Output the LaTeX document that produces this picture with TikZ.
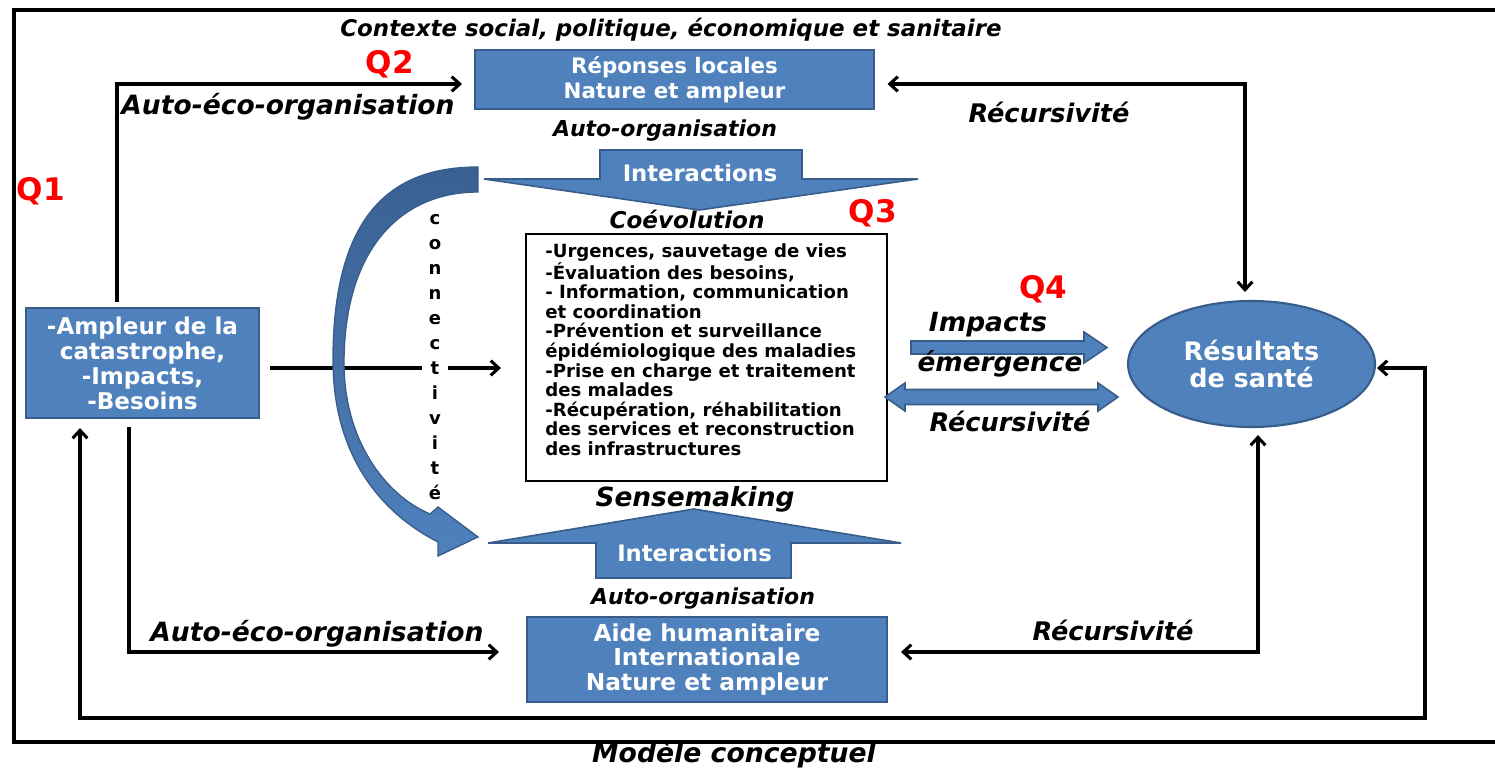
\documentclass[tikz,border=0pt]{standalone}
\usepackage{fontspec}
\setmainfont{DejaVu Sans}
\usetikzlibrary{arrows.meta,shapes.geometric}
\definecolor{bfill}{HTML}{4F81BD}
\definecolor{bline}{HTML}{385D8A}
\definecolor{bdark}{HTML}{3A6092}
\definecolor{qred}{HTML}{FF0000}
\begin{document}
\begin{tikzpicture}[x=0.75pt,y=-0.75pt,
  >={Straight Barb[length=6pt,width=11pt]},
  conn/.style={line width=2.3pt},
  bbox/.style={draw=bline, line width=1.6pt, fill=bfill, text=white, align=center, inner sep=0pt, outer sep=0pt},
  bigarrow/.style={draw=bline, line width=1.2pt, fill=bfill},
  lbl/.style={anchor=base, inner sep=0pt, font=\bfseries\itshape\fontsize{#1}{#1}\selectfont},
  qlbl/.style={anchor=base, inner sep=0pt, text=qred, font=\bfseries\fontsize{23.3}{23.3}\selectfont}
]
\useasboundingbox (0,0) rectangle (1495,769);
% outer context frame
\draw[line width=2.4pt] (1505,10) -- (14,10) -- (14,742) -- (1505,742);

% main nodes
\node[bbox, minimum width=299.25pt, minimum height=44.25pt, font=\bfseries\fontsize{16}{18.75}\selectfont] (rep) at (674.5,79.5) {Réponses locales\\Nature et ampleur};
\node[bbox, minimum width=174.75pt, minimum height=82.5pt, font=\bfseries\fontsize{17.3}{18.75}\selectfont] (amp) at (142.5,363) {-Ampleur de la\\catastrophe,\\-Impacts,\\-Besoins};
\node[bbox, minimum width=270pt, minimum height=63.75pt, font=\bfseries\fontsize{17.5}{18.4}\selectfont] (aide) at (707,659.5) {Aide humanitaire\\Internationale\\Nature et ampleur};
\node[ellipse, draw=bline, line width=1.6pt, fill=bfill, text=white, minimum width=185.25pt, minimum height=94.5pt, inner sep=0pt, outer sep=0pt, align=center, font=\bfseries\fontsize{19.1}{20.3}\selectfont] (res) at (1251.5,364) {Résultats\\de santé};
\node[draw=black, line width=2.2pt, minimum width=270.75pt, minimum height=185.25pt, inner sep=0pt, outer sep=0pt] (box) at (706.5,357.5) {};
\node[anchor=north west, inner sep=0pt, align=left, font=\bfseries\fontsize{13.6}{14.7}\selectfont] (boxtxt) at (545,243) {-Urgences, sauvetage de vies\\-Évaluation des besoins,\\- Information, communication\\et coordination\\-Prévention et surveillance\\épidémiologique des maladies\\-Prise en charge et traitement\\des malades\\-Récupération, réhabilitation\\des services et reconstruction\\des infrastructures};

% connectors
\coordinate (loopR) at (1425,718);
\draw[conn,->] ([shift={(-25.5,-6)}]amp.north) |- ([shift={(-13,4.5)}]rep.west);
\draw[conn,->] ([shift={(11,5)}]amp.east) -- ([shift={(-25,10.5)}]box.west);
\draw[conn,->] ([shift={(-13.5,9)}]amp.south) |- ([shift={(-28,-7.5)}]aide.west);
\draw[conn,<->] ([shift={(-62.5,10)}]amp.south) |- (loopR) |- ([shift={(2,4)}]res.east);
\draw[conn,<->] ([shift={(6.5,8)}]res.south) |- ([shift={(14,-7.5)}]aide.east);
\draw[conn,<->] ([shift={(13.5,4.5)}]rep.east) -| ([shift={(-6.5,-9)}]res.north);

% block arrows
\path[bigarrow] (600,150) -- (802,150) -- (802,179) -- (918,179) -- (699,210) -- (484,179) -- (600,179) -- cycle;
\path[bigarrow] (694,509) -- (901,543) -- (791,543) -- (791,578) -- (596,578) -- (596,543) -- (488,543) -- cycle;
\path[bigarrow] (911,341) -- (1084,341) -- (1084,332) -- (1107,347.5) -- (1084,363) -- (1084,354) -- (911,354) -- cycle;
\path[bigarrow] (885,397) -- (905,383) -- (905,389.5) -- (1098,389.5) -- (1098,383) -- (1118,397) -- (1098,411) -- (1098,404.5) -- (905,404.5) -- (905,411) -- cycle;
\node[anchor=base, inner sep=0pt, text=white, font=\bfseries\fontsize{17}{17}\selectfont] (int1) at (700,181.3) {Interactions};
\node[anchor=base, inner sep=0pt, text=white, font=\bfseries\fontsize{17}{17}\selectfont] (int2) at (694.5,561.3) {Interactions};

% labels
\node[lbl=17.2] (ctx) at (671,36.4) {Contexte social, politique, économique et sanitaire};
\node[lbl=19.9] (aeo1) at (288,114.8) {Auto-éco-organisation};
\node[lbl=16.5] (ao1) at (665,136) {Auto-organisation};
\node[lbl=19.2] (rec1) at (1049,122.5) {Récursivité};
\node[lbl=17.3] (coev) at (687,228.5) {Coévolution};
\node[lbl=19.8] (imp) at (988,331.7) {Impacts};
\node[lbl=19.7] (emer) at (1000,371) {émergence};
\node[lbl=19.2] (rec2) at (1010,431.5) {Récursivité};
\node[lbl=19.8] (sense) at (695,506.7) {Sensemaking};
\node[lbl=16.5] (ao2) at (703,604) {Auto-organisation};
\node[lbl=19.9] (aeo2) at (317,641.8) {Auto-éco-organisation};
\node[lbl=19.2] (rec3) at (1113,640.5) {Récursivité};
\node[lbl=20] (title) at (734,762.5) {Modèle conceptuel};
\node[qlbl] (q1) at (41,200.3) {Q1};
\node[qlbl] (q2) at (390,73.3) {Q2};
\node[qlbl] (q3) at (873,222.3) {Q3};
\node[qlbl] (q4) at (1043,298.3) {Q4};

% connectivite
\node[anchor=north, fill=white, inner xsep=5pt, inner ysep=0pt, align=center, font=\bfseries\fontsize{13.5}{18.75}\selectfont] (cnx) at (435,214) {c\\o\\n\\n\\e\\c\\t\\i\\v\\i\\t\\é};
\path[draw=bline, line width=1pt, top color=bdark, bottom color=bfill]
  (478,167) .. controls (395,167) and (333,210) .. (333,360)
  .. controls (333,460) and (385,515) .. (438,542)
  -- (438,556) -- (478,537) -- (438,507) -- (430,514)
  .. controls (385,495) and (344,440) .. (344,363)
  .. controls (344,250) and (400,192) .. (478,192) -- cycle;
\end{tikzpicture}
\end{document}
